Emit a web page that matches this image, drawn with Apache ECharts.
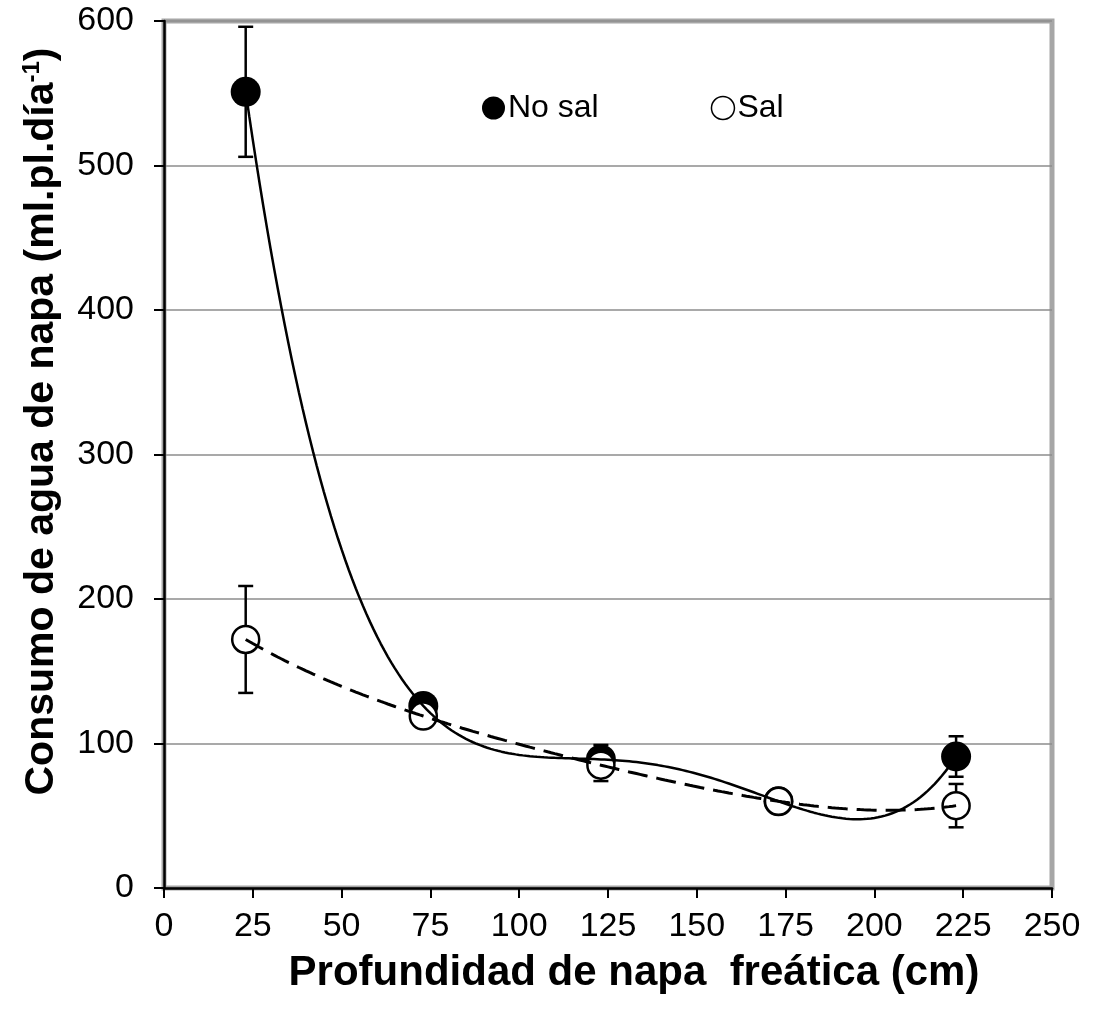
<!DOCTYPE html>
<html>
<head>
<meta charset="utf-8">
<script src="https://cdn.jsdelivr.net/npm/echarts@6/dist/echarts.min.js"></script>
<style>html,body{margin:0;padding:0;background:#fff}#c{width:1102px;height:1021px}</style>
</head>
<body>
<div id="c"></div>
<script>
// ---- data ----
const depth = [23, 73, 123, 173, 223];          // Profundidad de napa freática (cm)
const noSal = [551, 126, 89, 60, 91];           // No sal
const sal = [172, 119, 85, 60, 57];             // Sal
const noSalErr = [45, 0, 10, 0, 14];            // error bar half-widths
const salErr = [37, 0, 11, 0, 15];
const seriesNames = ['No sal', 'Sal'];
const xTitle = 'Profundidad de napa  freática (cm)';

const FONT = '"Liberation Sans", Arial, sans-serif';

// Excel-style polynomial trendline (order 4) fitted to the data points
function polyFit(xs, ys, order) {
  const cx = 123, sx = 50;
  const n = order + 1;
  const A = Array.from({length: n}, () => new Array(n + 1).fill(0));
  for (let k = 0; k < xs.length; k++) {
    const t = (xs[k] - cx) / sx;
    for (let i = 0; i < n; i++) {
      for (let j = 0; j < n; j++) A[i][j] += Math.pow(t, i + j);
      A[i][n] += ys[k] * Math.pow(t, i);
    }
  }
  for (let i = 0; i < n; i++) {
    let p = i;
    for (let r = i + 1; r < n; r++) if (Math.abs(A[r][i]) > Math.abs(A[p][i])) p = r;
    [A[i], A[p]] = [A[p], A[i]];
    for (let r = 0; r < n; r++) {
      if (r === i) continue;
      const f = A[r][i] / A[i][i];
      for (let c = i; c <= n; c++) A[r][c] -= f * A[i][c];
    }
  }
  const coef = A.map((row, i) => row[n] / row[i]);
  return x => { const t = (x - cx) / sx; return coef.reduce((s, c, i) => s + c * Math.pow(t, i), 0); };
}
function trend(xs, ys) {
  const f = polyFit(xs, ys, 4);
  const pts = [];
  for (let x = xs[0]; x <= xs[xs.length - 1] + 1e-9; x += 1) pts.push([x, f(x)]);
  return pts;
}

function errData(xs, ys, es) {
  const out = [];
  xs.forEach((x, i) => { if (es[i] > 0) out.push([x, ys[i] - es[i], ys[i] + es[i]]); });
  return out;
}

function errRender(params, api) {
  const x = api.value(0), lo = api.value(1), hi = api.value(2);
  const pl = api.coord([x, lo]), ph = api.coord([x, hi]);
  const w = 7.5;
  const st = {stroke: '#000', lineWidth: 2.5};
  return {
    type: 'group',
    children: [
      {type: 'line', shape: {x1: pl[0], y1: pl[1], x2: ph[0], y2: ph[1]}, style: st},
      {type: 'line', shape: {x1: pl[0] - w, y1: pl[1], x2: pl[0] + w, y2: pl[1]}, style: st},
      {type: 'line', shape: {x1: ph[0] - w, y1: ph[1], x2: ph[0] + w, y2: ph[1]}, style: st}
    ]
  };
}

const chart = echarts.init(document.getElementById('c'), null, {renderer: 'canvas'});
chart.setOption({
  animation: false,
  backgroundColor: '#fff',
  textStyle: {fontFamily: FONT, color: '#000'},
  grid: {
    left: 164, top: 21, right: 50, bottom: 133,
    show: true, borderColor: '#a6a6a6', borderWidth: 5, backgroundColor: '#fff'
  },
  legend: {
    left: 477, top: 87,
    itemWidth: 23, itemHeight: 23, itemGap: 112,
    icon: 'circle',
    textStyle: {fontSize: 32, fontFamily: FONT, color: '#000', padding: [0, 0, 0, -2], lineHeight: 32},
    data: [
      {name: seriesNames[0], itemStyle: {color: '#000', borderWidth: 0}},
      {name: seriesNames[1], itemStyle: {color: '#fff', borderColor: '#000', borderWidth: 1.5}}
    ]
  },
  xAxis: {
    type: 'value', min: 0, max: 250, interval: 25,
    name: xTitle, nameLocation: 'middle', nameGap: 64,
    nameTextStyle: {fontSize: 42, fontWeight: 'bold', fontFamily: FONT, color: '#000', padding: [0, 0, 0, 52]},
    axisLine: {show: true, lineStyle: {color: '#000', width: 2.5}},
    axisTick: {show: true, length: 10, lineStyle: {color: '#000', width: 2}},
    axisLabel: {fontSize: 34, color: '#000', fontFamily: FONT, margin: 22},
    splitLine: {show: false}
  },
  yAxis: {
    type: 'value', min: 0, max: 600, interval: 100,
    name: '{b|Consumo de agua de napa (ml.pl.día}{s|-1}{b|)}',
    nameLocation: 'middle', nameGap: 100,
    nameTextStyle: {
      padding: [0, 0, 0, 66],
      rich: {
        b: {fontSize: 41, fontWeight: 'bold', fontFamily: FONT, color: '#000', lineHeight: 44},
        s: {fontSize: 24, fontWeight: 'bold', fontFamily: FONT, color: '#000', lineHeight: 44, verticalAlign: 'top', padding: [0, 0, 14, 0]}
      }
    },
    axisLine: {show: true, lineStyle: {color: '#000', width: 2.5}},
    axisTick: {show: true, length: 10, lineStyle: {color: '#000', width: 2}},
    axisLabel: {fontSize: 34, color: '#000', fontFamily: FONT, margin: 30},
    splitLine: {show: true, lineStyle: {color: '#8c8c8c', width: 1.5}}
  },
  series: [
    {
      type: 'custom', name: 'errNoSal', renderItem: errRender, silent: true, z: 1,
      data: errData(depth, noSal, noSalErr)
    },
    {
      type: 'custom', name: 'errSal', renderItem: errRender, silent: true, z: 1,
      data: errData(depth, sal, salErr)
    },
    {
      type: 'scatter', name: seriesNames[0], z: 2,
      symbol: 'circle', symbolSize: 30,
      itemStyle: {color: '#000', opacity: 1},
      data: depth.map((x, i) => [x, noSal[i]])
    },
    {
      type: 'scatter', name: seriesNames[1], z: 3,
      symbol: 'circle', symbolSize: 27,
      itemStyle: {color: '#fff', borderColor: '#000', borderWidth: 2.5, opacity: 1},
      data: depth.map((x, i) => [x, sal[i]])
    },
    {
      type: 'line', name: 'trendNoSal', z: 4, silent: true,
      showSymbol: false, symbol: 'none',
      lineStyle: {color: '#000', width: 2.5},
      data: trend(depth, noSal)
    },
    {
      type: 'line', name: 'trendSal', z: 4, silent: true,
      showSymbol: false, symbol: 'none',
      lineStyle: {color: '#000', width: 3, type: [20, 9]},
      data: trend(depth, sal)
    }
  ]
});
</script>
</body>
</html>
